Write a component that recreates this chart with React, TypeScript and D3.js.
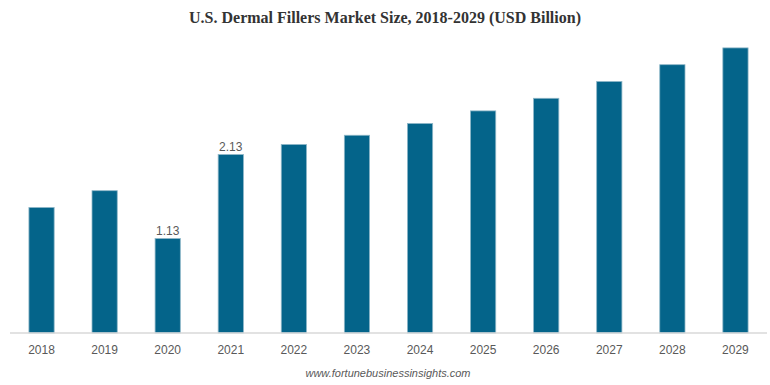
import React from "react";
import * as d3 from "d3";

const years = ["2018","2019","2020","2021","2022","2023","2024","2025","2026","2027","2028","2029"];
const values = [1.5, 1.7, 1.13, 2.13, 2.25, 2.36, 2.5, 2.65, 2.8, 3.0, 3.2, 3.4];
const labeled = ["2020", "2021"];

const W = 770, H = 385;
const margin = { left: 10, right: 3, top: 30, bottom: 52 };

export default function App() {
  const baseY = 333;
  const x = d3.scaleBand<string>().domain(years).range([margin.left, W - margin.right]).paddingInner(0.6).paddingOuter(0.3);
  const y = d3.scaleLinear().domain([0, 1]).range([baseY, baseY - 84.0]);
  return (
    <svg width={W} height={H} style={{ position: "absolute", left: 0, top: 0, background: "#fff" }}>
      <text x={385} y={23} textAnchor="middle" fontFamily="'Liberation Serif', 'Times New Roman', serif" fontWeight="bold" fontSize={16} fill="#333">
        U.S. Dermal Fillers Market Size, 2018-2029 (USD Billion)
      </text>
      {years.map((yr, i) => (
        <rect key={yr} x={x(yr)!} y={y(values[i]) + 0.5} width={x.bandwidth()} height={baseY - y(values[i]) - 0.5}
          fill="#04648A" stroke="#8db6c7" strokeWidth={0.8} />
      ))}
      <line x1={margin.left} x2={W - margin.right} y1={baseY} y2={baseY} stroke="#d9d9d9" strokeWidth={1.5} />
      {years.map((yr, i) => labeled.includes(yr) ? (
        <text key={"l" + yr} x={x(yr)! + x.bandwidth() / 2} y={y(values[i]) - 3.5} textAnchor="middle"
          fontFamily="'Liberation Sans', Arial, sans-serif" fontSize={12} fill="#595959">{values[i].toFixed(2)}</text>
      ) : null)}
      {years.map((yr) => (
        <text key={"t" + yr} x={x(yr)! + x.bandwidth() / 2} y={354} textAnchor="middle"
          fontFamily="'Liberation Sans', Arial, sans-serif" fontSize={12} fill="#595959">{yr}</text>
      ))}
      <text x={388} y={377} textAnchor="middle" fontFamily="'Liberation Sans', Arial, sans-serif" fontStyle="italic" fontSize={11} fill="#595959">
        www.fortunebusinessinsights.com
      </text>
    </svg>
  );
}
